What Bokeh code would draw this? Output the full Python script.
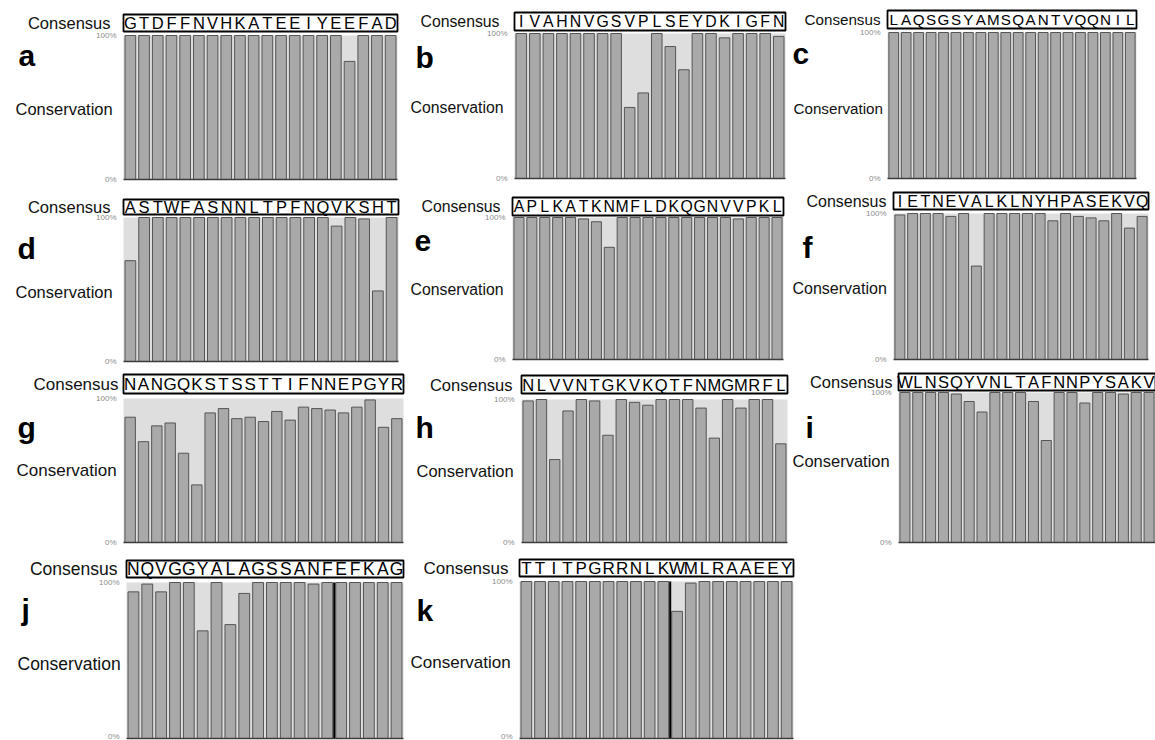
from bokeh.plotting import figure
from bokeh.layouts import column, row
from bokeh.models import Range1d, FixedTicker, BoxAnnotation, Label, LinearAxis, ColumnDataSource
from bokeh.embed import file_html
from bokeh.resources import INLINE
from bokeh.core.properties import value

# Consensus sequence of each aligned region
seq_a = "GTDFFNVHKATEEIYEEFAD"
seq_b = "IVAHNVGSVPLSEYDKIGFN"
seq_c = "LAQSGSYAMSQANTVQQNIL"
seq_d = "ASTWFASNNLTPFNQVKSHT"
seq_e = "APLKATKNMFLDKQGNVVPKL"
seq_f = "IETNEVALKLNYHPASEKVQ"
seq_g = "NANGQKSTSSTTIFNNEPGYR"
seq_h = "NLVVNTGKVKQTFNMGMRFL"
seq_i = "WLNSQYVNLTAFNNPYSAKV"
seq_j = "NQVGGYALAGSSANFEFKAG"
seq_k = "TTITPGRRNLKWMLRAAEEY"

# Conservation (%) per residue
cons_a = [100, 100, 100, 100, 100, 100, 100, 100, 100, 100, 100, 100, 100, 100, 100, 100, 82, 100, 100, 100]
cons_b = [100, 100, 100, 100, 100, 100, 100, 100, 49, 59, 100, 91, 75, 100, 100, 97, 100, 100, 100, 98]
cons_c = [100, 100, 100, 100, 100, 100, 100, 100, 100, 100, 100, 100, 100, 100, 100, 100, 100, 100, 100, 100]
cons_d = [70, 100, 100, 100, 100, 100, 100, 100, 100, 100, 100, 100, 100, 100, 100, 94, 100, 99, 49, 100]
cons_e = [100, 100, 100, 100, 100, 99, 97, 79, 100, 100, 100, 100, 100, 100, 100, 100, 100, 99, 100, 100, 100]
cons_f = [99, 100, 100, 100, 98, 100, 64, 100, 100, 100, 100, 100, 95, 100, 98, 97, 95, 100, 90, 98]
cons_g = [87, 70, 81, 83, 62, 40, 90, 93, 86, 87, 84, 91, 85, 94, 93, 92, 90, 94, 99, 80, 86]
cons_h = [99, 100, 58, 92, 100, 99, 75, 100, 98, 96, 100, 100, 100, 94, 73, 100, 94, 100, 100, 69]
cons_i = [100, 100, 100, 100, 99, 94, 87, 100, 100, 100, 94, 68, 100, 100, 93, 100, 100, 99, 100, 100]
cons_j = [94, 99, 94, 100, 100, 69, 100, 73, 93, 100, 100, 100, 100, 99, 100, 100, 100, 100, 100, 100]
cons_k = [100, 100, 100, 100, 100, 100, 100, 100, 100, 100, 100, 81, 99, 100, 100, 100, 100, 100, 100, 100]

# Alignment block boundaries (after residue number)
breaks_j = [15]
breaks_k = [11]

tick_labels = {0: "0%", 1: "100%"}

FONT = "Liberation Sans"
BAR_FILL = "#a9a9a9"
BAR_LINE = "#555555"
BG_FILL = "#dedede"

ROWS = [(0, 185), (185, 367), (367, 550), (550, 740)]

# Page geometry of each panel (pixels)
# row, figure x0/x1, bar area left/right, 100% y, 0% y, box top/bottom,
# consensus label right edge, conservation left/centre-y, panel letter left/baseline, font size
GEOM = {
    "a": dict(r=0, x0=0, x1=405, fl=123, fr=397, p1=35, p0=179, bt=14, bb=31,
              cr=110, vl=15, vy=108, ll=18, lb=55, fs=16.5),
    "b": dict(r=0, x0=405, x1=788, fl=514, fr=785, p1=33, p0=178, bt=12, bb=30,
              cr=499, vl=410, vy=107, ll=415, lb=57, fs=15.8),
    "c": dict(r=0, x0=788, x1=1155, fl=887, fr=1136, p1=32, p0=178, bt=10, bb=28,
              cr=880, vl=793, vy=108, ll=792, lb=53, fs=15.2),
    "d": dict(r=1, x0=0, x1=405, fl=123, fr=398, p1=217, p0=361, bt=199, bb=214,
              cr=110, vl=15, vy=291, ll=17, lb=248, fs=16.5),
    "e": dict(r=1, x0=405, x1=788, fl=512, fr=783, p1=217, p0=359, bt=197, bb=215,
              cr=500, vl=410, vy=289, ll=414, lb=240, fs=15.8),
    "f": dict(r=1, x0=788, x1=1155, fl=893, fr=1148, p1=213, p0=359, bt=192, bb=209,
              cr=886, vl=792, vy=288, ll=802, lb=247, fs=16.0),
    "g": dict(r=2, x0=0, x1=410, fl=123, fr=403, p1=398, p0=542, bt=374, bb=393,
              cr=118, vl=16, vy=470, ll=17, lb=427, fs=17.0),
    "h": dict(r=2, x0=410, x1=790, fl=521, fr=787, p1=399, p0=542, bt=375, bb=393,
              cr=512, vl=416, vy=470, ll=415, lb=427, fs=16.5),
    "i": dict(r=2, x0=790, x1=1155, fl=898, fr=1155, p1=392, p0=542, bt=373, bb=390,
              cr=892, vl=792, vy=460, ll=805, lb=427, fs=16.5),
    "j": dict(r=3, x0=0, x1=410, fl=126, fr=403, p1=582, p0=738, bt=560, bb=577,
              cr=117, vl=17, vy=663, ll=21, lb=609, fs=17.5),
    "k": dict(r=3, x0=410, x1=800, fl=519, fr=793, p1=581, p0=738, bt=559, bb=576,
              cr=508, vl=410, vy=662, ll=416, lb=610, fs=17.0),
}


def panel(letter, seq, cons, breaks=()):
    g = GEOM[letter]
    row_top, row_bot = ROWS[g["r"]]
    n = len(seq)
    slot = (g["fr"] - g["fl"]) / n
    unit = g["p0"] - g["p1"]

    def to_y(py):
        return (g["p0"] - py) / unit

    # the frame fills the whole figure; residues sit at 1..n
    p = figure(
        frame_width=g["x1"] - g["x0"],
        frame_height=row_bot - row_top,
        min_border=0,
        x_range=Range1d(0.5 - (g["fl"] - g["x0"]) / slot, n + 0.5 + (g["x1"] - g["fr"]) / slot),
        y_range=Range1d(to_y(row_bot), to_y(row_top)),
        x_axis_location=None,
        y_axis_location=None,
        toolbar_location=None,
        output_backend="svg",
        outline_line_color=None,
        background_fill_color="white",
        border_fill_color="white",
    )
    p.xgrid.visible = False
    p.ygrid.visible = False

    ax = LinearAxis(fixed_location=0.5, ticker=FixedTicker(ticks=[0, 1]))
    ax.major_label_overrides = tick_labels
    ax.major_label_text_font = FONT
    ax.major_label_text_font_size = "8px"
    ax.major_label_text_color = "#8c8c8c"
    ax.major_label_standoff = 1
    ax.major_tick_line_color = None
    ax.minor_tick_line_color = None
    ax.axis_line_color = None
    p.add_layout(ax, "left")

    # light band behind the bars, 0%..100%
    p.add_layout(BoxAnnotation(left=0.5, right=n + 0.5, bottom=0, top=1, fill_color=BG_FILL,
                               fill_alpha=1, line_color=None, level="underlay"))

    xs = list(range(1, n + 1))
    src = ColumnDataSource(dict(x=xs, top=[v / 100 for v in cons], res=list(seq)))
    p.vbar(x="x", top="top", bottom=0, width=0.78, source=src,
           fill_color=BAR_FILL, line_color=BAR_LINE, line_width=1)

    for b in breaks:
        p.segment(x0=b + 0.5, y0=0, x1=b + 0.5, y1=1, line_color="black", line_width=2)

    # baseline at 0%
    p.segment(x0=0.5, y0=0, x1=n + 0.5, y1=0, line_color="#3c3c3c", line_width=1.5)

    # consensus box with residues
    yb, yt = to_y(g["bb"]), to_y(g["bt"])
    p.quad(left=0.5, right=n + 0.5, bottom=yb, top=yt,
           fill_color="white", line_color="black", line_width=1.8)
    yc = (yb + yt) / 2 - 0.3 / unit
    p.text(x="x", y=yc, text="res", source=src,
           text_font=value(FONT), text_font_size=f"{g['fs']}px",
           text_align="center", text_baseline="middle", text_color="black")

    p.add_layout(Label(x=0.5, y=yc, x_offset=g["cr"] - g["fl"], text="Consensus",
                       text_font=FONT, text_font_size=f"{g['fs']}px",
                       text_align="right", text_baseline="middle", text_color="#111111"))
    p.add_layout(Label(x=0.5, y=to_y(g["vy"]), x_offset=g["vl"] - g["fl"], text="Conservation",
                       text_font=FONT, text_font_size=f"{g['fs']}px",
                       text_align="left", text_baseline="middle", text_color="#111111"))
    p.add_layout(Label(x=0.5, y=to_y(g["lb"]), x_offset=g["ll"] - g["fl"], text=letter,
                       text_font=FONT, text_font_size="30px", text_font_style="bold",
                       text_align="left", text_baseline="alphabetic", text_color="black"))
    return p


pa = panel("a", seq_a, cons_a)
pb = panel("b", seq_b, cons_b)
pc = panel("c", seq_c, cons_c)
pd = panel("d", seq_d, cons_d)
pe = panel("e", seq_e, cons_e)
pf = panel("f", seq_f, cons_f)
pg = panel("g", seq_g, cons_g)
ph = panel("h", seq_h, cons_h)
pi = panel("i", seq_i, cons_i)
pj = panel("j", seq_j, cons_j, breaks_j)
pk = panel("k", seq_k, cons_k, breaks_k)

layout = column(
    row(pa, pb, pc, spacing=0),
    row(pd, pe, pf, spacing=0),
    row(pg, ph, pi, spacing=0),
    row(pj, pk, spacing=0),
    spacing=0,
)

open("out.html", "w").write(file_html(layout, INLINE))
